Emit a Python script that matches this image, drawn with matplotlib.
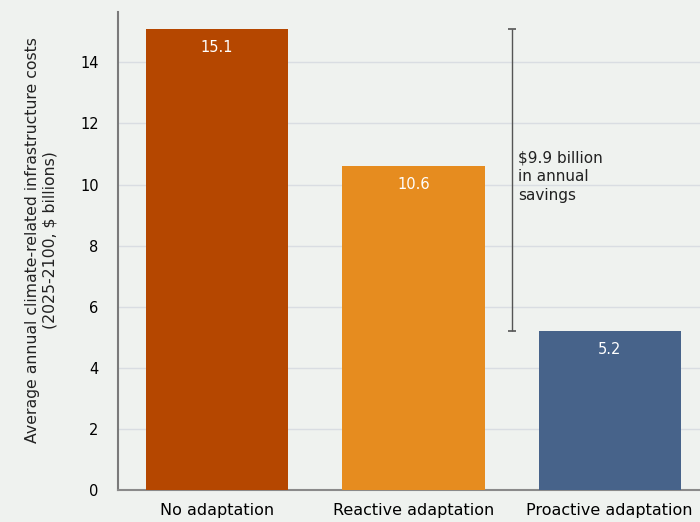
import numpy as np
import matplotlib.pyplot as plt

categories = ["No adaptation", "Reactive adaptation", "Proactive adaptation"]
costs = [15.1, 10.6, 5.2]
colors = ["#b54700", "#e68c1f", "#47638a"]
yticks = [0, 2, 4, 6, 8, 10, 12, 14]
savings_label = "$9.9 billion\nin annual\nsavings"

bg = "#eff2ef"
fig = plt.figure(figsize=(7, 5.22), dpi=100, facecolor=bg)
ax = fig.add_axes([0.1686, 0.0613, 0.8314, 0.9157])
ax.set_facecolor(bg)

x = np.arange(len(categories))
ax.bar(x, costs, width=0.725, color=colors, zorder=3)
for xi, v in zip(x, costs):
    ax.text(xi, v - 0.6, f"{v}", ha="center", va="center", color="white", fontsize=10.5, zorder=4)

# savings bracket between first and last bar
ax.errorbar([1.5], [(costs[0] + costs[2]) / 2], yerr=[(costs[0] - costs[2]) / 2],
            color="#555555", lw=1, capsize=3, capthick=1.2, zorder=4)
ax.text(1.535, 10.25, savings_label, ha="left", va="center", fontsize=11,
        color="#222222", linespacing=1.3)

ax.set_xlim(-0.505, 2.46)
ax.set_ylim(0, 15.65)
ax.set_yticks(yticks)
ax.set_xticks(x)
ax.set_xticklabels(categories, fontsize=11.5)
ax.tick_params(axis="y", labelsize=10.5, length=0, pad=14)
ax.tick_params(axis="x", length=0, pad=9)
ax.grid(axis="y", color="#d9dde2", lw=1, zorder=0)
for s in ["top", "right"]:
    ax.spines[s].set_visible(False)
ax.spines["left"].set_color("#7a7a7a")
ax.spines["bottom"].set_color("#8a8a8a")
ax.spines["left"].set_linewidth(1.5)
ax.spines["bottom"].set_linewidth(1.5)
ax.set_ylabel("Average annual climate-related infrastructure costs\n(2025-2100, $ billions)",
              fontsize=11.3, color="#222222", linespacing=1.2)
ax.yaxis.set_label_coords(-0.104, 0.523)

fig.savefig("out.png", dpi=100, facecolor=bg)
